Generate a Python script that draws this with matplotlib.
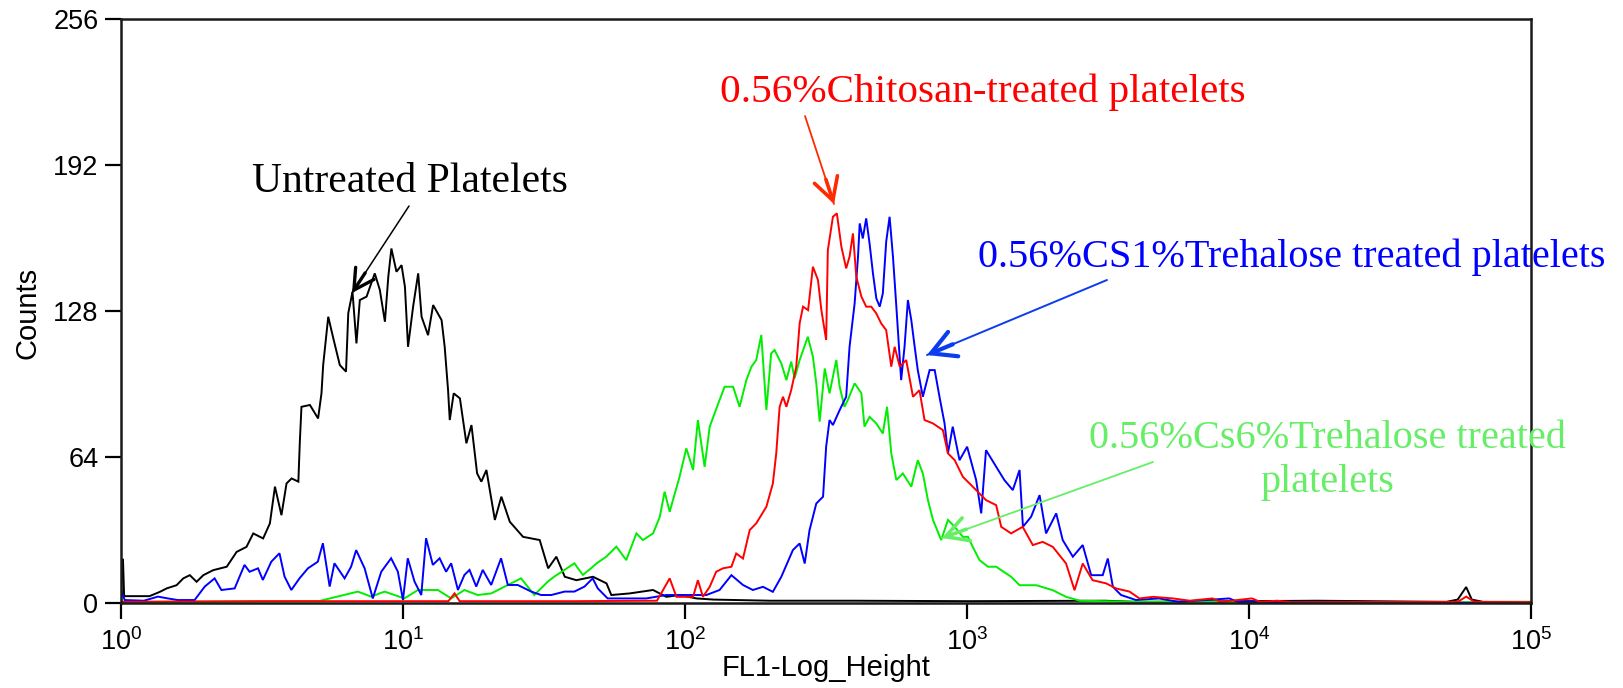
import numpy as np
import matplotlib
matplotlib.use("Agg")
import matplotlib.pyplot as plt
from matplotlib.patches import FancyArrowPatch
from matplotlib.ticker import FixedLocator, NullLocator, FixedFormatter

# ---------------- data (log10 of FL1 height, counts) ----------------
black_exp = [0.000, 0.002, 0.006, 0.010, 0.060, 0.100, 0.137, 0.161, 0.196, 0.220, 0.243, 0.267,
             0.291, 0.326, 0.374, 0.409, 0.444, 0.468, 0.503, 0.527, 0.545, 0.568, 0.586, 0.604,
             0.628, 0.633, 0.639, 0.669, 0.698, 0.710, 0.716, 0.734, 0.752, 0.775, 0.797, 0.805,
             0.820, 0.834, 0.846, 0.870, 0.899, 0.917, 0.935, 0.947, 0.958, 0.976, 0.994, 1.006,
             1.017, 1.035, 1.053, 1.065, 1.088, 1.106, 1.136, 1.147, 1.159, 1.165, 1.179, 1.201,
             1.224, 1.242, 1.262, 1.277, 1.295, 1.325, 1.348, 1.378, 1.425, 1.484, 1.514, 1.543,
             1.573, 1.614, 1.673, 1.721, 1.738, 1.803, 1.886, 1.933, 1.980, 2.040, 2.100, 2.300,
             2.600, 3.000, 3.490, 3.600, 4.240, 4.700, 4.740, 4.770, 4.790, 4.830, 5.000]
black_counts = [0, 19, 19, 3, 3, 3, 4.9, 6.4, 7.8, 10.8, 12.2, 9.3,
                12.2, 14.4, 15.9, 22.4, 24.6, 30.5, 28.3, 34.9, 51, 38.5, 52.4, 54.6,
                53.2, 70, 86, 86.8, 80.9, 91.9, 104.3, 125.5, 116, 104.3, 101.4, 127,
                136.4, 113.8, 132.8, 134.3, 144.5, 137.2, 123.3, 143.0, 155.4, 145.2, 148.1, 138.6,
                112.3, 129.9, 144.5, 125.5, 117.4, 130.6, 124.0, 112.3, 93.3, 80.2, 91.9, 89.7,
                70.0, 78.0, 56.8, 53.2, 58.3, 36.4, 46.6, 35.6, 29.0, 27.6, 15.2, 20.3,
                11.5, 10.0, 11.5, 8.6, 3.5, 4.2, 5.7, 2.7, 3.5, 2.0, 1.5, 1.0,
                1.0, 0.8, 1.0, 0.5, 1.0, 0.5, 1.5, 7.0, 1.5, 0.5, 0.5]

blue_exp = [0.000, 0.012, 0.080, 0.130, 0.165, 0.200, 0.260, 0.296, 0.331, 0.355, 0.402, 0.437,
            0.455, 0.485, 0.502, 0.532, 0.561, 0.579, 0.603, 0.632, 0.662, 0.697, 0.715, 0.739,
            0.756, 0.792, 0.815, 0.833, 0.863, 0.892, 0.922, 0.957, 0.981, 0.999, 1.016, 1.040,
            1.064, 1.081, 1.105, 1.129, 1.152, 1.170, 1.194, 1.217, 1.235, 1.259, 1.282, 1.312,
            1.347, 1.371, 1.406, 1.454, 1.489, 1.525, 1.572, 1.607, 1.643, 1.672, 1.690, 1.725,
            1.803, 1.862, 1.933, 2.004, 2.075, 2.122, 2.164, 2.205, 2.240, 2.276, 2.311, 2.341,
            2.382, 2.406, 2.424, 2.441, 2.465, 2.489, 2.500, 2.512, 2.524, 2.548, 2.571, 2.583,
            2.601, 2.613, 2.619, 2.630, 2.642, 2.654, 2.666, 2.678, 2.690, 2.701, 2.713, 2.725,
            2.737, 2.749, 2.766, 2.778, 2.790, 2.802, 2.814, 2.825, 2.843, 2.867, 2.885, 2.902,
            2.920, 2.932, 2.949, 2.973, 3.000, 3.032, 3.050, 3.067, 3.103, 3.132, 3.162, 3.186,
            3.198, 3.227, 3.257, 3.280, 3.316, 3.339, 3.375, 3.410, 3.440, 3.481, 3.499, 3.517,
            3.546, 3.599, 3.680, 3.750, 3.930, 3.960, 5.000]
blue_counts = [5.7, 1.3, 1.0, 2.8, 2.0, 1.3, 1.3, 7.2, 10.8, 5.7, 6.4, 16.7,
               13.7, 15.2, 10.1, 18.1, 21.8, 11.6, 5.7, 10.8, 15.2, 18.1, 26.2, 7.2,
               17.4, 10.8, 15.9, 23.2, 15.2, 2.0, 13.7, 19.6, 13.7, 1.3, 19.6, 9.4,
               3.5, 28.4, 16.7, 19.6, 13.7, 17.4, 5.7, 12.3, 14.5, 7.2, 14.5, 7.9,
               19.6, 7.9, 7.9, 5.0, 3.5, 3.5, 5.0, 5.0, 7.2, 10.8, 6.4, 2.0,
               2.0, 2.0, 3.5, 3.5, 3.5, 5.7, 12.2, 7.9, 5.7, 7.1, 4.9, 11.5,
               23.2, 26.1, 17.3, 31.9, 43.6, 46.6, 68.5, 80.2, 78.0, 84.6, 90.4, 112.3,
               131.3, 151.8, 166.4, 159.8, 168.6, 157.6, 144.5, 133.5, 129.9, 135.7, 158.4, 169.3,
               151.8, 129.9, 97.7, 112.3, 132.8, 124.0, 112.3, 102.1, 90.4, 102.1, 102.1, 90.4,
               78.7, 65.6, 77.3, 62.6, 68.5, 53.9, 39.3, 67.0, 59.7, 53.9, 49.5, 58.3,
               33.4, 37.8, 47.3, 30.5, 39.3, 27.6, 20.3, 25.4, 12.2, 12.2, 19.5, 7.1,
               3.5, 1.3, 2.0, 0.5, 2.0, 0.5, 0.0]

red_exp = [0.000, 0.500, 1.160, 1.182, 1.200, 1.600, 1.900, 1.945, 1.969, 2.028, 2.045, 2.063,
           2.087, 2.110, 2.134, 2.164, 2.181, 2.205, 2.229, 2.252, 2.288, 2.311, 2.323, 2.335,
           2.347, 2.359, 2.376, 2.394, 2.406, 2.418, 2.436, 2.453, 2.471, 2.483, 2.500, 2.506,
           2.524, 2.538, 2.554, 2.571, 2.583, 2.595, 2.607, 2.625, 2.642, 2.660, 2.678, 2.695,
           2.713, 2.731, 2.743, 2.761, 2.784, 2.808, 2.831, 2.849, 2.879, 2.914, 2.932, 2.956,
           2.985, 3.032, 3.067, 3.103, 3.121, 3.156, 3.197, 3.233, 3.268, 3.304, 3.351, 3.381,
           3.410, 3.445, 3.493, 3.528, 3.576, 3.611, 3.660, 3.730, 3.790, 3.870, 3.900, 4.010,
           4.040, 4.100, 4.150, 4.740, 4.770, 4.800, 5.000]
red_counts = [0.5, 0.8, 0.8, 4.2, 0.8, 0.8, 1.0, 10.8, 2.7, 2.7, 10.0, 2.7,
              7.1, 13.7, 15.2, 15.9, 21.7, 19.5, 32.0, 34.9, 42.2, 52.4, 65.6, 86.0,
              90.4, 86.0, 93.3, 103.6, 122.6, 129.9, 128.4, 147.4, 141.6, 128.4, 115.3, 154.7,
              169.3, 170.8, 156.2, 146.7, 151.8, 162.0, 143.0, 134.3, 129.9, 129.9, 126.9, 122.6,
              119.6, 103.6, 112.3, 103.6, 106.5, 90.4, 93.3, 80.2, 78.7, 75.8, 65.6, 62.6,
              55.3, 49.5, 45.1, 42.9, 33.4, 30.5, 33.4, 25.4, 26.8, 24.6, 17.3, 5.6,
              17.3, 10.0, 8.6, 6.4, 5.0, 2.0, 2.7, 2.0, 1.0, 2.0, 0.5, 2.0,
              0.5, 1.0, 0.3, 0.5, 2.8, 0.5, 0.3]

green_exp = [0.000, 0.700, 0.839, 0.886, 0.934, 1.004, 1.052, 1.123, 1.170, 1.217, 1.264, 1.312,
             1.371, 1.418, 1.465, 1.513, 1.536, 1.572, 1.607, 1.637, 1.666, 1.685, 1.720, 1.756,
             1.791, 1.827, 1.850, 1.886, 1.910, 1.927, 1.945, 1.980, 2.004, 2.028, 2.045, 2.069,
             2.087, 2.122, 2.140, 2.170, 2.193, 2.217, 2.235, 2.252, 2.270, 2.288, 2.305, 2.317,
             2.341, 2.359, 2.376, 2.388, 2.406, 2.435, 2.453, 2.465, 2.477, 2.495, 2.512, 2.536,
             2.548, 2.565, 2.577, 2.601, 2.625, 2.636, 2.654, 2.678, 2.701, 2.716, 2.731, 2.749,
             2.772, 2.802, 2.825, 2.843, 2.861, 2.879, 2.908, 2.932, 2.956, 2.985, 3.003, 3.020,
             3.044, 3.074, 3.103, 3.156, 3.186, 3.245, 3.304, 3.351, 3.400, 3.600, 5.000]
green_counts = [0.5, 0.8, 5.0, 2.8, 5.0, 2.0, 5.7, 5.7, 2.0, 5.7, 3.5, 4.2,
                7.9, 10.8, 3.5, 9.4, 11.6, 14.5, 17.4, 12.3, 15.2, 17.3, 20.3, 24.7,
                18.8, 30.5, 27.6, 30.5, 37.8, 48.8, 40.0, 55.3, 67.8, 58.3, 80.2, 59.7,
                77.3, 89.0, 94.8, 94.8, 86.0, 97.7, 103.6, 106.5, 117.5, 84.6, 109.4, 110.9,
                105.0, 97.7, 105.8, 98.5, 106.5, 116.7, 108.0, 96.3, 79.5, 102.8, 91.9, 106.5,
                94.8, 86.0, 89.0, 96.3, 91.9, 77.3, 81.6, 78.7, 74.3, 86.0, 65.6, 53.9,
                56.8, 51.0, 62.6, 56.8, 45.1, 36.4, 27.6, 36.4, 33.4, 29.0, 29.0, 24.6,
                18.8, 15.9, 15.9, 11.5, 7.8, 7.8, 5.6, 2.7, 1.0, 0.5, 0.3]

x_ticks = [1, 10, 100, 1000, 10000, 100000]
x_ticklabels = [r'$\mathregular{10^{%d}}$' % i for i in range(6)]
y_ticks = [0, 64, 128, 192, 256]

labels = {
    "black": "Untreated Platelets",
    "red": "0.56%Chitosan-treated platelets",
    "blue": "0.56%CS1%Trehalose treated platelets",
    "green1": "0.56%Cs6%Trehalose treated",
    "green2": "platelets",
}

# ---------------- figure ----------------
W, H = 1623, 688
plt.rcParams['font.family'] = ['Liberation Sans', 'DejaVu Sans']
plt.rcParams['mathtext.fontset'] = 'custom'
plt.rcParams['mathtext.rm'] = 'Liberation Sans'
plt.rcParams['mathtext.default'] = 'regular'

fig = plt.figure(figsize=(W / 100, H / 100), dpi=100)
L, R, T, B = 121.3, 1531.0, 19.0, 603.0
ax = fig.add_axes([L / W, 1 - B / H, (R - L) / W, (B - T) / H])

series = [
    (black_exp, black_counts, '#000000'),
    (green_exp, green_counts, '#00ee00'),
    (blue_exp, blue_counts, '#0000ff'),
    (red_exp, red_counts, '#ff0000'),
]
for ex, cnt, col in series:
    ax.plot(10 ** np.asarray(ex), cnt, color=col, lw=1.4, solid_joinstyle='miter')

ax.set_xscale('log')
ax.set_xlim(1, 1e5)
ax.set_ylim(0, 256)
ax.xaxis.set_major_locator(FixedLocator(x_ticks))
ax.xaxis.set_major_formatter(FixedFormatter(x_ticklabels))
ax.xaxis.set_minor_locator(NullLocator())
ax.set_yticks(y_ticks)
ax.tick_params(axis='both', which='major', direction='out', length=11.5, width=1.6,
               labelsize=19.5, colors='black')
ax.tick_params(axis='x', pad=6.5)
ax.tick_params(axis='y', pad=5)
for s in ax.spines.values():
    s.set_linewidth(1.8)
    s.set_color('#1a1a1a')

ax.set_xlabel('FL1-Log_Height', fontsize=21)
ax.xaxis.set_label_coords(0.5, -0.088)
ax.set_ylabel('Counts', fontsize=21)
ax.yaxis.set_label_coords(-0.0565, 0.4966)


def fp(px, py):
    return (px / W, 1 - py / H)


serif = ['Liberation Serif', 'DejaVu Serif']
fig.text(*fp(409.5, 192), labels["black"], ha='center', va='baseline', fontsize=30, family=serif, color='black')
fig.text(*fp(983, 101.7), labels["red"], ha='center', va='baseline', fontsize=29.6, family=serif, color='#ff0000')
fig.text(*fp(1291.5, 267), labels["blue"], ha='center', va='baseline', fontsize=29, family=serif, color='#0000ff')
fig.text(*fp(1327.5, 448), labels["green1"], ha='center', va='baseline', fontsize=29, family=serif, color='#66ee66')
fig.text(*fp(1327.5, 491.7), labels["green2"], ha='center', va='baseline', fontsize=29, family=serif, color='#66ee66')


def arrow(start, tip, color, lw_shaft, lw_head, head_px=22):
    sx, sy = start
    tx, ty = tip
    fig.add_artist(FancyArrowPatch(fp(sx, sy), fp(tx, ty), transform=fig.transFigure,
                                   arrowstyle='-', color=color, lw=lw_shaft,
                                   shrinkA=0, shrinkB=0))
    d = np.hypot(tx - sx, ty - sy)
    k = min(1.0, (head_px + 4) / d)
    hx, hy = tx - (tx - sx) * k, ty - (ty - sy) * k
    fig.add_artist(FancyArrowPatch(fp(hx, hy), fp(tx, ty), transform=fig.transFigure,
                                   arrowstyle='->,head_length=0.6,head_width=0.33',
                                   mutation_scale=head_px / 1.389 / 0.6, color=color,
                                   lw=lw_head, shrinkA=0, shrinkB=0, joinstyle='miter'))


arrow((409, 206), (352, 293), 'black', 1.1, 2.4, 20)
arrow((805, 116), (834, 204), '#ff2a00', 1.3, 2.6, 22)
arrow((1107, 280), (927, 355), '#0a3cf0', 1.4, 3.0, 24)
arrow((1153, 462), (942, 538), '#66ee66', 1.3, 2.6, 22)

fig.savefig('out.png', dpi=100)
